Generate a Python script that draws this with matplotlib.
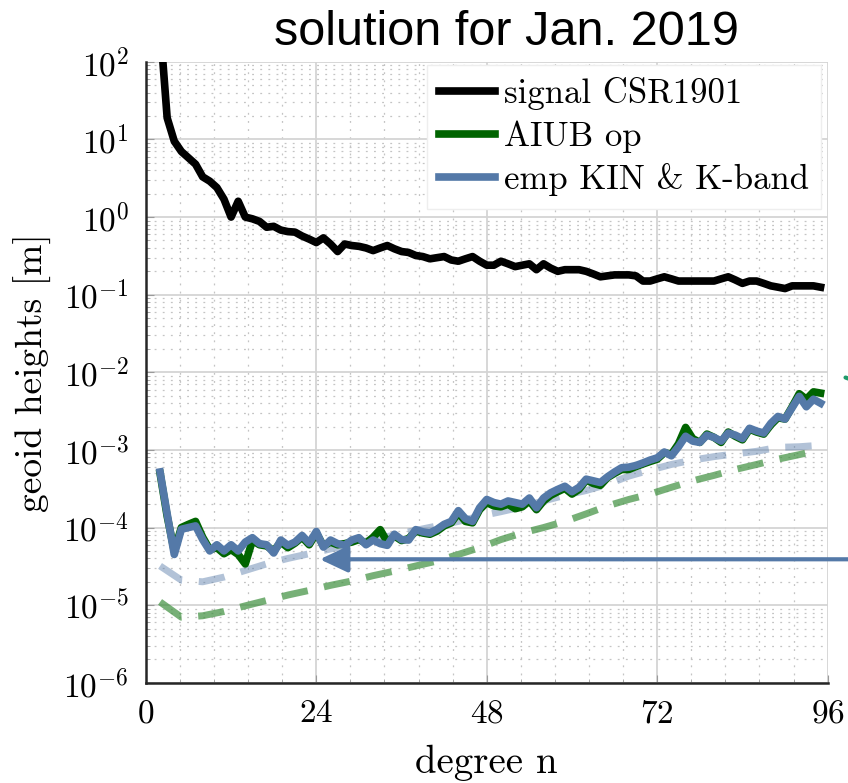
import math
import matplotlib
matplotlib.use("Agg")
import matplotlib.pyplot as plt
from matplotlib.ticker import (FixedLocator, FixedFormatter, FuncFormatter, LogLocator,
                               MultipleLocator, NullFormatter)

plt.rcParams['font.family'] = ['cmr10', 'DejaVu Serif']
plt.rcParams['mathtext.fontset'] = 'cm'
plt.rcParams['axes.formatter.use_mathtext'] = True

# degree n = 2 .. 95
degrees = list(range(2, 96))

signal_csr = [300, 19, 9.5, 7.0, 5.8, 4.8, 3.3, 2.9, 2.4, 1.7,
              1.0, 1.6, 1.0, 0.95, 0.88, 0.74, 0.76, 0.68, 0.65, 0.64,
              0.57, 0.52, 0.47, 0.54, 0.45, 0.36, 0.45, 0.43, 0.42, 0.40,
              0.37, 0.40, 0.43, 0.39, 0.36, 0.35, 0.32, 0.31, 0.29, 0.30,
              0.31, 0.28, 0.27, 0.29, 0.31, 0.27, 0.24, 0.24, 0.27, 0.25,
              0.23, 0.24, 0.25, 0.21, 0.25, 0.22, 0.20, 0.21, 0.21, 0.21,
              0.20, 0.185, 0.17, 0.175, 0.18, 0.18, 0.18, 0.175, 0.15, 0.15,
              0.16, 0.17, 0.16, 0.15, 0.15, 0.15, 0.15, 0.15, 0.15, 0.16,
              0.17, 0.155, 0.14, 0.15, 0.15, 0.14, 0.13, 0.125, 0.12, 0.13,
              0.13, 0.13, 0.13, 0.125]

aiub_op = [5.0e-4, 1.4e-4, 5.0e-5, 1.0e-4, 1.1e-4, 1.2e-4, 7.5e-5, 5.2e-5, 5.5e-5, 4.6e-5,
           5.2e-5, 4.5e-5, 3.4e-5, 6.8e-5, 6.0e-5, 5.8e-5, 5.0e-5, 6.5e-5, 5.5e-5, 6.3e-5,
           7.5e-5, 6.0e-5, 8.5e-5, 5.8e-5, 6.5e-5, 6.0e-5, 6.2e-5, 6.5e-5, 7.0e-5, 6.3e-5,
           7.5e-5, 9.4e-5, 6.5e-5, 7.8e-5, 6.8e-5, 7.2e-5, 9.0e-5, 8.5e-5, 8.2e-5, 9.0e-5,
           1.05e-4, 1.15e-4, 1.55e-4, 1.2e-4, 1.15e-4, 1.7e-4, 2.1e-4, 1.9e-4, 1.85e-4, 2.0e-4,
           1.75e-4, 1.85e-4, 2.2e-4, 1.7e-4, 2.2e-4, 2.6e-4, 2.9e-4, 3.2e-4, 2.7e-4, 3.1e-4,
           4.1e-4, 3.7e-4, 3.5e-4, 4.4e-4, 5.0e-4, 5.6e-4, 5.6e-4, 6.1e-4, 6.6e-4, 7.1e-4,
           7.6e-4, 9.2e-4, 8.8e-4, 1.2e-3, 1.95e-3, 1.4e-3, 1.25e-3, 1.6e-3, 1.45e-3, 1.25e-3,
           1.7e-3, 1.5e-3, 1.35e-3, 1.85e-3, 1.7e-3, 1.6e-3, 2.1e-3, 2.6e-3, 2.5e-3, 3.6e-3,
           5.3e-3, 4.5e-3, 5.6e-3, 5.4e-3]

emp_kin = [5.2e-4, 1.5e-4, 4.5e-5, 9.5e-5, 1.0e-4, 1.05e-4, 7.0e-5, 5.0e-5, 6.0e-5, 5.0e-5,
           6.0e-5, 5.0e-5, 6.5e-5, 7.4e-5, 6.2e-5, 6.0e-5, 4.7e-5, 6.9e-5, 5.9e-5, 6.5e-5,
           7.9e-5, 6.3e-5, 8.9e-5, 5.6e-5, 6.9e-5, 6.2e-5, 5.9e-5, 6.9e-5, 7.4e-5, 6.0e-5,
           6.9e-5, 6.2e-5, 5.9e-5, 8.2e-5, 7.0e-5, 6.9e-5, 9.4e-5, 8.8e-5, 8.5e-5, 9.5e-5,
           1.1e-4, 1.2e-4, 1.65e-4, 1.3e-4, 1.2e-4, 1.8e-4, 2.3e-4, 2.1e-4, 2.0e-4, 2.2e-4,
           2.1e-4, 2.0e-4, 2.4e-4, 1.8e-4, 2.4e-4, 2.8e-4, 3.1e-4, 3.4e-4, 2.9e-4, 3.3e-4,
           4.2e-4, 4.0e-4, 3.8e-4, 4.5e-4, 5.2e-4, 5.9e-4, 6.0e-4, 6.3e-4, 6.8e-4, 7.4e-4,
           7.9e-4, 9.4e-4, 8.4e-4, 1.1e-3, 1.5e-3, 1.3e-3, 1.25e-3, 1.55e-3, 1.45e-3, 1.3e-3,
           1.65e-3, 1.55e-3, 1.4e-3, 1.9e-3, 1.75e-3, 1.65e-3, 2.2e-3, 2.7e-3, 2.5e-3, 3.5e-3,
           4.9e-3, 3.6e-3, 4.5e-3, 4.0e-3]

# formal errors (dashed), every third degree
degrees_formal = list(range(2, 96, 3))
formal_kin = [3.2e-5, 2.1e-5, 2.0e-5, 2.3e-5, 2.8e-5, 3.4e-5, 4.0e-5, 4.6e-5, 5.3e-5, 6.1e-5,
              7.0e-5, 8.0e-5, 9.2e-5, 1.05e-4, 1.2e-4, 1.4e-4, 1.6e-4, 1.85e-4, 2.2e-4, 2.6e-4,
              3.0e-4, 3.6e-4, 4.6e-4, 5.5e-4, 6.5e-4, 7.4e-4, 8.2e-4, 8.9e-4, 9.6e-4, 1.08e-3,
              1.1e-3, 1.15e-3]
formal_aiub = [1.1e-5, 7.0e-6, 7.3e-6, 8.3e-6, 9.8e-6, 1.15e-5, 1.35e-5, 1.55e-5, 1.8e-5, 2.05e-5,
               2.4e-5, 2.75e-5, 3.2e-5, 3.7e-5, 4.5e-5, 5.5e-5, 7.0e-5, 8.5e-5, 1.0e-4, 1.2e-4,
               1.5e-4, 1.9e-4, 2.3e-4, 2.7e-4, 3.3e-4, 4.0e-4, 4.7e-4, 5.6e-4, 6.5e-4, 7.6e-4,
               8.7e-4, 1.0e-3]

x_ticks = [0, 24, 48, 72, 96]

arrow_level = 3.9e-5
arrow_degree = 24.5

green = '#006400'
blue = '#5479a8'

fig = plt.figure(figsize=(8.48, 7.83), dpi=100)
ax = fig.add_axes([0.172, 0.128, 0.804, 0.793])

ax.plot(degrees_formal, formal_aiub, color='#3d8f3d', alpha=0.7, lw=5, ls=(0, (3.8, 2.4)))
ax.plot(degrees_formal, formal_kin, color=blue, alpha=0.45, lw=5, ls=(0, (3.8, 2.4)))
ax.plot(degrees, signal_csr, color='black', lw=5.5, label='signal CSR1901', zorder=4)
ax.plot(degrees, aiub_op, color=green, lw=5.5, label='AIUB op', zorder=4)
ax.plot(degrees, emp_kin, color=blue, lw=5.5, label='emp KIN & K-band', zorder=5)

ax.set_yscale('log')
ax.set_ylim(1e-6, 1e2)
ax.set_xlim(0, 96)

ax.xaxis.set_major_locator(FixedLocator(x_ticks))
ax.xaxis.set_major_formatter(FixedFormatter(['$%d$' % t for t in x_ticks]))
ax.xaxis.set_minor_locator(MultipleLocator(4.8))
ax.yaxis.set_major_locator(LogLocator(base=10, numticks=20))
ax.yaxis.set_major_formatter(FuncFormatter(lambda v, p: r'$10^{%d}$' % round(math.log10(v))))
ax.yaxis.set_minor_locator(LogLocator(base=10, subs=range(2, 10), numticks=20))
ax.yaxis.set_minor_formatter(NullFormatter())

ax.grid(which='major', color='#d4d4d4', lw=1.3, ls='-')
ax.grid(which='minor', color='#c4c4c4', lw=0.9, ls=(0, (1.5, 5)))
ax.set_axisbelow(True)

ax.tick_params(which='both', direction='in', labelsize=24, top=False, right=False,
               color='#9a9a9a')
ax.tick_params(which='major', length=6, pad=12)
ax.tick_params(which='minor', length=3)
for s in ['top', 'right']:
    ax.spines[s].set_visible(False)
for s in ['left', 'bottom']:
    ax.spines[s].set_color('#262626')
    ax.spines[s].set_linewidth(1.8)

ax.set_xlabel('degree n', fontsize=28, labelpad=12)
ax.set_ylabel('geoid heights [m]', fontsize=27, labelpad=8)

leg = ax.legend(loc='upper right', bbox_to_anchor=(0.99, 0.995), fontsize=25,
                handlelength=1.6, handletextpad=0.25, labelspacing=0.3,
                borderpad=0.35, fancybox=False, framealpha=1, edgecolor='#eeeeee',
                borderaxespad=0)
leg.set_zorder(10)

ax.annotate('', xy=(arrow_degree, arrow_level), xytext=(1.0, arrow_level),
            xycoords='data', textcoords=('figure fraction', 'data'),
            arrowprops=dict(arrowstyle='-|>,head_length=1.7,head_width=0.8',
                            color=blue, lw=3, shrinkA=0, shrinkB=0),
            annotation_clip=False, zorder=6)

ax.annotate('', xy=(0.994, 8.8e-3), xytext=(1.02, 7.0e-3),
            xycoords=('figure fraction', 'data'), textcoords=('figure fraction', 'data'),
            arrowprops=dict(arrowstyle='-', color='#1f9a6a', lw=3),
            annotation_clip=False)

fig.text(0.597, 0.958, 'solution for Jan. 2019', ha='center', va='center', fontsize=35,
         family=['Liberation Sans Narrow', 'Liberation Sans', 'DejaVu Sans'])

fig.savefig('out.png', dpi=100)
